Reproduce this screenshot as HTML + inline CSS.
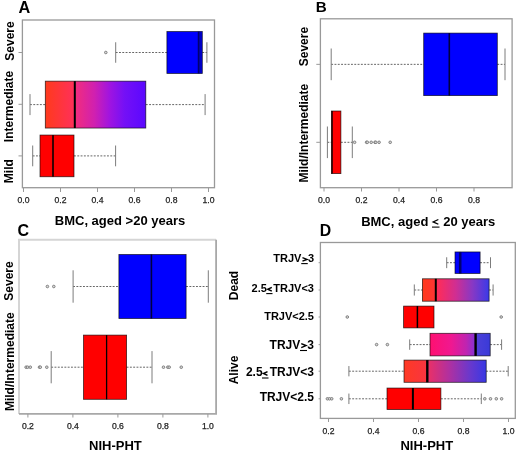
<!DOCTYPE html><html><head><meta charset="utf-8"><style>html,body{margin:0;padding:0;background:#fff;}svg{display:block;will-change:transform;}</style></head><body>
<svg width="520" height="451" viewBox="0 0 520 451" font-family='"Liberation Sans", sans-serif'>
<defs><linearGradient id="gA" x1="0" x2="1" y1="0" y2="0"><stop offset="0" stop-color="#ff3a1c"/><stop offset="0.28" stop-color="#ff3058"/><stop offset="0.31" stop-color="#f02c80"/><stop offset="0.49" stop-color="#d020b0"/><stop offset="0.64" stop-color="#a014e0"/><stop offset="0.79" stop-color="#7410f6"/><stop offset="1" stop-color="#5a08ff"/></linearGradient><linearGradient id="gD2" x1="0" x2="1" y1="0" y2="0"><stop offset="0" stop-color="#ff3a1c"/><stop offset="0.19" stop-color="#ff3434"/><stop offset="0.22" stop-color="#ff2c58"/><stop offset="0.5" stop-color="#d02e92"/><stop offset="0.75" stop-color="#8838c4"/><stop offset="1" stop-color="#3a3ae8"/></linearGradient><linearGradient id="gD4" x1="0" x2="1" y1="0" y2="0"><stop offset="0" stop-color="#ff1070"/><stop offset="0.35" stop-color="#f01890"/><stop offset="0.6" stop-color="#c024b0"/><stop offset="0.74" stop-color="#8a30d0"/><stop offset="0.77" stop-color="#4c40d8"/><stop offset="1" stop-color="#3a3ad8"/></linearGradient><linearGradient id="gD5" x1="0" x2="1" y1="0" y2="0"><stop offset="0" stop-color="#ff3a24"/><stop offset="0.27" stop-color="#f83440"/><stop offset="0.3" stop-color="#e83068"/><stop offset="0.55" stop-color="#b030a0"/><stop offset="0.8" stop-color="#6a38cc"/><stop offset="1" stop-color="#3838e4"/></linearGradient></defs>
<rect width="520" height="451" fill="#fff"/>
<text x="18.6" y="12.8" font-size="16.3" font-weight="bold">A</text>
<rect x="22.4" y="20" width="192.1" height="167.7" fill="none" stroke="#999" stroke-width="1.3"/>
<line x1="23.5" y1="188" x2="23.5" y2="192" stroke="#999" stroke-width="1"/>
<text x="23.5" y="203" font-size="8.6" fill="#222" stroke="#222" stroke-width="0.25" text-anchor="middle">0.0</text>
<line x1="60.5" y1="188" x2="60.5" y2="192" stroke="#999" stroke-width="1"/>
<text x="60.5" y="203" font-size="8.6" fill="#222" stroke="#222" stroke-width="0.25" text-anchor="middle">0.2</text>
<line x1="97.5" y1="188" x2="97.5" y2="192" stroke="#999" stroke-width="1"/>
<text x="97.5" y="203" font-size="8.6" fill="#222" stroke="#222" stroke-width="0.25" text-anchor="middle">0.4</text>
<line x1="134.5" y1="188" x2="134.5" y2="192" stroke="#999" stroke-width="1"/>
<text x="134.5" y="203" font-size="8.6" fill="#222" stroke="#222" stroke-width="0.25" text-anchor="middle">0.6</text>
<line x1="171.5" y1="188" x2="171.5" y2="192" stroke="#999" stroke-width="1"/>
<text x="171.5" y="203" font-size="8.6" fill="#222" stroke="#222" stroke-width="0.25" text-anchor="middle">0.8</text>
<line x1="208.5" y1="188" x2="208.5" y2="192" stroke="#999" stroke-width="1"/>
<text x="208.5" y="203" font-size="8.6" fill="#222" stroke="#222" stroke-width="0.25" text-anchor="middle">1.0</text>
<line x1="18.5" y1="52.5" x2="22.4" y2="52.5" stroke="#999" stroke-width="1"/>
<line x1="18.5" y1="104.3" x2="22.4" y2="104.3" stroke="#999" stroke-width="1"/>
<line x1="18.5" y1="155.9" x2="22.4" y2="155.9" stroke="#999" stroke-width="1"/>
<text transform="translate(13.8,41) rotate(-90)" font-size="12" font-weight="bold" text-anchor="middle">Severe</text>
<text transform="translate(12.8,106.5) rotate(-90)" font-size="12" font-weight="bold" text-anchor="middle">Intermediate</text>
<text transform="translate(13.0,171.2) rotate(-90)" font-size="12" font-weight="bold" text-anchor="middle">Mild</text>
<text x="120" y="225" font-size="13" font-weight="bold" text-anchor="middle">BMC, aged &gt;20 years</text>
<line x1="32.7" y1="155.9" x2="40" y2="155.9" stroke="#666" stroke-width="1" stroke-dasharray="1.9 1.4"/>
<line x1="32.7" y1="145.5" x2="32.7" y2="166.3" stroke="#7c7c7c" stroke-width="1"/>
<line x1="74" y1="155.9" x2="115.6" y2="155.9" stroke="#666" stroke-width="1" stroke-dasharray="1.9 1.4"/>
<line x1="115.6" y1="145.5" x2="115.6" y2="166.3" stroke="#7c7c7c" stroke-width="1"/>
<rect x="40" y="135.05" width="34" height="41.7" fill="#ff0000" stroke="rgba(0,0,0,0.75)" stroke-width="0.8"/>
<line x1="53" y1="135.05" x2="53" y2="176.75" stroke="#3a0000" stroke-width="2.0"/>
<line x1="30" y1="104.6" x2="45.3" y2="104.6" stroke="#666" stroke-width="1" stroke-dasharray="1.9 1.4"/>
<line x1="30" y1="94.1" x2="30" y2="115.1" stroke="#7c7c7c" stroke-width="1"/>
<line x1="145.8" y1="104.6" x2="205.1" y2="104.6" stroke="#666" stroke-width="1" stroke-dasharray="1.9 1.4"/>
<line x1="205.1" y1="94.1" x2="205.1" y2="115.1" stroke="#7c7c7c" stroke-width="1"/>
<rect x="45.3" y="81.14999999999999" width="100.50000000000001" height="46.9" fill="url(#gA)" stroke="rgba(0,0,0,0.75)" stroke-width="0.8"/>
<line x1="74.8" y1="81.14999999999999" x2="74.8" y2="128.04999999999998" stroke="#000" stroke-width="2.0"/>
<line x1="115.7" y1="52.5" x2="166.9" y2="52.5" stroke="#666" stroke-width="1" stroke-dasharray="1.9 1.4"/>
<line x1="115.7" y1="42.25" x2="115.7" y2="62.75" stroke="#7c7c7c" stroke-width="1"/>
<line x1="202.3" y1="52.5" x2="206.9" y2="52.5" stroke="#666" stroke-width="1" stroke-dasharray="1.9 1.4"/>
<line x1="206.9" y1="42.25" x2="206.9" y2="62.75" stroke="#7c7c7c" stroke-width="1"/>
<rect x="166.9" y="31.55" width="35.400000000000006" height="41.9" fill="#0000ff" stroke="rgba(0,0,0,0.75)" stroke-width="0.8"/>
<line x1="-10" y1="31.55" x2="-10" y2="73.45" stroke="#000" stroke-width="2.0"/>
<circle cx="105.8" cy="52.5" r="1.3" fill="#d8d8d8" stroke="#777" stroke-width="0.9"/>
<rect x="199.4" y="31.8" width="2.6" height="41.3" fill="#0000c4"/>
<line x1="198.6" y1="31.6" x2="198.6" y2="73.4" stroke="#000070" stroke-width="1.7"/>
<text x="315.7" y="11.8" font-size="15.2" font-weight="bold">B</text>
<rect x="320.4" y="18.8" width="191.70000000000005" height="168.89999999999998" fill="none" stroke="#999" stroke-width="1.3"/>
<line x1="324.0" y1="188" x2="324.0" y2="191.5" stroke="#999" stroke-width="1"/>
<text x="324.0" y="202.5" font-size="8.6" fill="#222" stroke="#222" stroke-width="0.25" text-anchor="middle">0.0</text>
<line x1="361.5" y1="188" x2="361.5" y2="191.5" stroke="#999" stroke-width="1"/>
<text x="361.5" y="202.5" font-size="8.6" fill="#222" stroke="#222" stroke-width="0.25" text-anchor="middle">0.2</text>
<line x1="399.0" y1="188" x2="399.0" y2="191.5" stroke="#999" stroke-width="1"/>
<text x="399.0" y="202.5" font-size="8.6" fill="#222" stroke="#222" stroke-width="0.25" text-anchor="middle">0.4</text>
<line x1="436.5" y1="188" x2="436.5" y2="191.5" stroke="#999" stroke-width="1"/>
<text x="436.5" y="202.5" font-size="8.6" fill="#222" stroke="#222" stroke-width="0.25" text-anchor="middle">0.6</text>
<line x1="474.0" y1="188" x2="474.0" y2="191.5" stroke="#999" stroke-width="1"/>
<text x="474.0" y="202.5" font-size="8.6" fill="#222" stroke="#222" stroke-width="0.25" text-anchor="middle">0.8</text>
<line x1="316.3" y1="64.35" x2="320.4" y2="64.35" stroke="#999" stroke-width="1"/>
<line x1="316.3" y1="142.3" x2="320.4" y2="142.3" stroke="#999" stroke-width="1"/>
<text transform="translate(307.6,46.6) rotate(-90)" font-size="12" font-weight="bold" text-anchor="middle">Severe</text>
<text transform="translate(307.7,133.2) rotate(-90)" font-size="12" font-weight="bold" text-anchor="middle">Mild/Intermediate</text>
<text x="428.2" y="225.9" font-size="13" font-weight="bold" text-anchor="middle">BMC, aged <tspan fill-opacity="0">&lt;</tspan> 20 years</text>
<line x1="331.2" y1="64.35" x2="423.7" y2="64.35" stroke="#666" stroke-width="1" stroke-dasharray="1.9 1.4"/>
<line x1="331.2" y1="48.49999999999999" x2="331.2" y2="80.19999999999999" stroke="#7c7c7c" stroke-width="1"/>
<line x1="497.3" y1="64.35" x2="505" y2="64.35" stroke="#666" stroke-width="1" stroke-dasharray="1.9 1.4"/>
<line x1="505" y1="48.49999999999999" x2="505" y2="80.19999999999999" stroke="#7c7c7c" stroke-width="1"/>
<rect x="423.7" y="33.099999999999994" width="73.60000000000002" height="62.5" fill="#0000ff" stroke="rgba(0,0,0,0.75)" stroke-width="0.8"/>
<line x1="449.3" y1="33.099999999999994" x2="449.3" y2="95.6" stroke="#000040" stroke-width="1.6"/>
<line x1="327.4" y1="142.3" x2="331.5" y2="142.3" stroke="#666" stroke-width="1" stroke-dasharray="1.9 1.4"/>
<line x1="327.4" y1="126.50000000000001" x2="327.4" y2="158.10000000000002" stroke="#7c7c7c" stroke-width="1"/>
<line x1="340.9" y1="142.3" x2="352.3" y2="142.3" stroke="#666" stroke-width="1" stroke-dasharray="1.9 1.4"/>
<line x1="352.3" y1="126.50000000000001" x2="352.3" y2="158.10000000000002" stroke="#7c7c7c" stroke-width="1"/>
<rect x="331.5" y="111.00000000000001" width="9.399999999999977" height="62.6" fill="#ff0000" stroke="rgba(0,0,0,0.75)" stroke-width="0.8"/>
<line x1="332.1" y1="111.00000000000001" x2="332.1" y2="173.60000000000002" stroke="#000" stroke-width="1.2"/>
<circle cx="354.6" cy="142.3" r="1.3" fill="#d8d8d8" stroke="#777" stroke-width="0.9"/>
<circle cx="366.6" cy="142.3" r="1.3" fill="#d8d8d8" stroke="#777" stroke-width="0.9"/>
<circle cx="367.3" cy="142.3" r="1.3" fill="#d8d8d8" stroke="#777" stroke-width="0.9"/>
<circle cx="371.2" cy="142.3" r="1.3" fill="#d8d8d8" stroke="#777" stroke-width="0.9"/>
<circle cx="375" cy="142.3" r="1.3" fill="#d8d8d8" stroke="#777" stroke-width="0.9"/>
<circle cx="375.8" cy="142.3" r="1.3" fill="#d8d8d8" stroke="#777" stroke-width="0.9"/>
<circle cx="379.1" cy="142.3" r="1.3" fill="#d8d8d8" stroke="#777" stroke-width="0.9"/>
<circle cx="390.2" cy="142.3" r="1.3" fill="#d8d8d8" stroke="#777" stroke-width="0.9"/>
<text x="17.4" y="235.7" font-size="16" font-weight="bold">C</text>
<path d="M19 414 V239.8 H216.1" fill="none" stroke="#d5d5d5" stroke-width="2"/>
<path d="M216.1 239.8 V413.9 H19" fill="none" stroke="#a8a8a8" stroke-width="1.8"/>
<line x1="27.9" y1="414" x2="27.9" y2="417.5" stroke="#999" stroke-width="1"/>
<text x="27.9" y="429" font-size="8.6" fill="#222" stroke="#222" stroke-width="0.25" text-anchor="middle">0.2</text>
<line x1="72.9" y1="414" x2="72.9" y2="417.5" stroke="#999" stroke-width="1"/>
<text x="72.9" y="429" font-size="8.6" fill="#222" stroke="#222" stroke-width="0.25" text-anchor="middle">0.4</text>
<line x1="117.89999999999998" y1="414" x2="117.89999999999998" y2="417.5" stroke="#999" stroke-width="1"/>
<text x="117.89999999999998" y="429" font-size="8.6" fill="#222" stroke="#222" stroke-width="0.25" text-anchor="middle">0.6</text>
<line x1="162.90000000000003" y1="414" x2="162.90000000000003" y2="417.5" stroke="#999" stroke-width="1"/>
<text x="162.90000000000003" y="429" font-size="8.6" fill="#222" stroke="#222" stroke-width="0.25" text-anchor="middle">0.8</text>
<line x1="207.9" y1="414" x2="207.9" y2="417.5" stroke="#999" stroke-width="1"/>
<text x="207.9" y="429" font-size="8.6" fill="#222" stroke="#222" stroke-width="0.25" text-anchor="middle">1.0</text>
<text transform="translate(13.2,281.0) rotate(-90)" font-size="12" font-weight="bold" text-anchor="middle">Severe</text>
<text transform="translate(13.6,361.7) rotate(-90)" font-size="12" font-weight="bold" text-anchor="middle">Mild/Intermediate</text>
<text x="115.4" y="450" font-size="13" font-weight="bold" text-anchor="middle">NIH-PHT</text>
<line x1="73.1" y1="286.5" x2="118.9" y2="286.5" stroke="#666" stroke-width="1" stroke-dasharray="1.9 1.4"/>
<line x1="73.1" y1="270.3" x2="73.1" y2="302.7" stroke="#7c7c7c" stroke-width="1"/>
<line x1="186.1" y1="286.5" x2="208.3" y2="286.5" stroke="#666" stroke-width="1" stroke-dasharray="1.9 1.4"/>
<line x1="208.3" y1="270.3" x2="208.3" y2="302.7" stroke="#7c7c7c" stroke-width="1"/>
<rect x="118.9" y="254.5" width="67.19999999999999" height="64" fill="#0000ff" stroke="rgba(0,0,0,0.75)" stroke-width="0.8"/>
<line x1="151.4" y1="254.5" x2="151.4" y2="318.5" stroke="#000040" stroke-width="1.6"/>
<circle cx="47.4" cy="286.5" r="1.3" fill="#d8d8d8" stroke="#777" stroke-width="0.9"/>
<circle cx="53.8" cy="286.5" r="1.3" fill="#d8d8d8" stroke="#777" stroke-width="0.9"/>
<line x1="51.2" y1="367.2" x2="83.5" y2="367.2" stroke="#666" stroke-width="1" stroke-dasharray="1.9 1.4"/>
<line x1="51.2" y1="351.09999999999997" x2="51.2" y2="383.3" stroke="#7c7c7c" stroke-width="1"/>
<line x1="126.6" y1="367.2" x2="152" y2="367.2" stroke="#666" stroke-width="1" stroke-dasharray="1.9 1.4"/>
<line x1="152" y1="351.09999999999997" x2="152" y2="383.3" stroke="#7c7c7c" stroke-width="1"/>
<rect x="83.5" y="335.09999999999997" width="43.099999999999994" height="64.2" fill="#ff0000" stroke="rgba(0,0,0,0.75)" stroke-width="0.8"/>
<line x1="106.6" y1="335.09999999999997" x2="106.6" y2="399.29999999999995" stroke="#000" stroke-width="1.3"/>
<circle cx="26.1" cy="367.2" r="1.3" fill="#d8d8d8" stroke="#777" stroke-width="0.9"/>
<circle cx="27.6" cy="367.2" r="1.3" fill="#d8d8d8" stroke="#777" stroke-width="0.9"/>
<circle cx="30.3" cy="367.2" r="1.3" fill="#d8d8d8" stroke="#777" stroke-width="0.9"/>
<circle cx="39.5" cy="367.2" r="1.3" fill="#d8d8d8" stroke="#777" stroke-width="0.9"/>
<circle cx="40.3" cy="367.2" r="1.3" fill="#d8d8d8" stroke="#777" stroke-width="0.9"/>
<circle cx="46.8" cy="367.2" r="1.3" fill="#d8d8d8" stroke="#777" stroke-width="0.9"/>
<circle cx="163.5" cy="367.2" r="1.3" fill="#d8d8d8" stroke="#777" stroke-width="0.9"/>
<circle cx="167.8" cy="367.2" r="1.3" fill="#d8d8d8" stroke="#777" stroke-width="0.9"/>
<circle cx="169.2" cy="367.2" r="1.3" fill="#d8d8d8" stroke="#777" stroke-width="0.9"/>
<circle cx="181.25" cy="367.2" r="1.3" fill="#d8d8d8" stroke="#777" stroke-width="0.9"/>
<text x="319.8" y="235.8" font-size="15.8" font-weight="bold">D</text>
<rect x="320.4" y="242.5" width="194.89999999999998" height="175.89999999999998" fill="none" stroke="#999" stroke-width="1.3"/>
<line x1="328.5" y1="418.5" x2="328.5" y2="422.0" stroke="#999" stroke-width="1"/>
<text x="328.5" y="433.8" font-size="8.6" fill="#222" stroke="#222" stroke-width="0.25" text-anchor="middle">0.2</text>
<line x1="373.5" y1="418.5" x2="373.5" y2="422.0" stroke="#999" stroke-width="1"/>
<text x="373.5" y="433.8" font-size="8.6" fill="#222" stroke="#222" stroke-width="0.25" text-anchor="middle">0.4</text>
<line x1="418.5" y1="418.5" x2="418.5" y2="422.0" stroke="#999" stroke-width="1"/>
<text x="418.5" y="433.8" font-size="8.6" fill="#222" stroke="#222" stroke-width="0.25" text-anchor="middle">0.6</text>
<line x1="463.5" y1="418.5" x2="463.5" y2="422.0" stroke="#999" stroke-width="1"/>
<text x="463.5" y="433.8" font-size="8.6" fill="#222" stroke="#222" stroke-width="0.25" text-anchor="middle">0.8</text>
<line x1="508.5" y1="418.5" x2="508.5" y2="422.0" stroke="#999" stroke-width="1"/>
<text x="508.5" y="433.8" font-size="8.6" fill="#222" stroke="#222" stroke-width="0.25" text-anchor="middle">1.0</text>
<line x1="318.6" y1="262.7" x2="320.4" y2="262.7" stroke="#999" stroke-width="1"/>
<line x1="318.6" y1="290" x2="320.4" y2="290" stroke="#999" stroke-width="1"/>
<line x1="318.6" y1="317" x2="320.4" y2="317" stroke="#999" stroke-width="1"/>
<line x1="318.6" y1="344.6" x2="320.4" y2="344.6" stroke="#999" stroke-width="1"/>
<line x1="318.6" y1="371.2" x2="320.4" y2="371.2" stroke="#999" stroke-width="1"/>
<line x1="318.6" y1="398.8" x2="320.4" y2="398.8" stroke="#999" stroke-width="1"/>
<text transform="translate(238,285.5) rotate(-90)" font-size="12" font-weight="bold" text-anchor="middle">Dead</text>
<text transform="translate(238,370) rotate(-90)" font-size="12" font-weight="bold" text-anchor="middle">Alive</text>
<text x="314" y="262.0" font-size="11" font-weight="bold" text-anchor="end">TRJV<tspan fill-opacity="0">&gt;</tspan>3</text>
<text x="314" y="291.8" font-size="11" font-weight="bold" text-anchor="end">2.5<tspan fill-opacity="0">&lt;</tspan>TRJV&lt;3</text>
<text x="314" y="320" font-size="11" font-weight="bold" text-anchor="end">TRJV&lt;2.5</text>
<text x="314" y="348.6" font-size="12" font-weight="bold" text-anchor="end">TRJV<tspan fill-opacity="0">&gt;</tspan>3</text>
<text x="314" y="376.2" font-size="12" font-weight="bold" text-anchor="end">2.5<tspan fill-opacity="0">&lt;</tspan>TRJV&lt;3</text>
<text x="314" y="400.7" font-size="12" font-weight="bold" text-anchor="end">TRJV&lt;2.5</text>
<text x="426.8" y="449.6" font-size="13" font-weight="bold" text-anchor="middle">NIH-PHT</text>
<line x1="446.7" y1="262.7" x2="455" y2="262.7" stroke="#666" stroke-width="1" stroke-dasharray="1.9 1.4"/>
<line x1="446.7" y1="257.25" x2="446.7" y2="268.15" stroke="#7c7c7c" stroke-width="1"/>
<line x1="480.1" y1="262.7" x2="490.5" y2="262.7" stroke="#666" stroke-width="1" stroke-dasharray="1.9 1.4"/>
<line x1="490.5" y1="257.25" x2="490.5" y2="268.15" stroke="#7c7c7c" stroke-width="1"/>
<rect x="455" y="251.95" width="25.100000000000023" height="21.5" fill="#0000ff" stroke="rgba(0,0,0,0.75)" stroke-width="0.8"/>
<line x1="460.2" y1="251.95" x2="460.2" y2="273.45" stroke="#000070" stroke-width="2.6"/>
<line x1="414.3" y1="290" x2="422.4" y2="290" stroke="#666" stroke-width="1" stroke-dasharray="1.9 1.4"/>
<line x1="414.3" y1="284.45" x2="414.3" y2="295.55" stroke="#7c7c7c" stroke-width="1"/>
<line x1="489.1" y1="290" x2="493.1" y2="290" stroke="#666" stroke-width="1" stroke-dasharray="1.9 1.4"/>
<line x1="493.1" y1="284.45" x2="493.1" y2="295.55" stroke="#7c7c7c" stroke-width="1"/>
<rect x="422.4" y="278.8" width="66.70000000000005" height="22.4" fill="url(#gD2)" stroke="rgba(0,0,0,0.75)" stroke-width="0.8"/>
<line x1="435.8" y1="278.8" x2="435.8" y2="301.2" stroke="#000" stroke-width="2.0"/>
<rect x="403.6" y="306.1" width="30.399999999999977" height="21.8" fill="#ff0000" stroke="rgba(0,0,0,0.75)" stroke-width="0.8"/>
<line x1="417.4" y1="306.1" x2="417.4" y2="327.90000000000003" stroke="#000" stroke-width="1.5"/>
<circle cx="347.3" cy="317" r="1.3" fill="#d8d8d8" stroke="#777" stroke-width="0.9"/>
<circle cx="501.2" cy="317" r="1.3" fill="#d8d8d8" stroke="#777" stroke-width="0.9"/>
<line x1="409.7" y1="344.6" x2="430" y2="344.6" stroke="#666" stroke-width="1" stroke-dasharray="1.9 1.4"/>
<line x1="409.7" y1="339.40000000000003" x2="409.7" y2="349.8" stroke="#7c7c7c" stroke-width="1"/>
<line x1="490.2" y1="344.6" x2="501.6" y2="344.6" stroke="#666" stroke-width="1" stroke-dasharray="1.9 1.4"/>
<line x1="501.6" y1="339.40000000000003" x2="501.6" y2="349.8" stroke="#7c7c7c" stroke-width="1"/>
<rect x="430" y="333.3" width="60.19999999999999" height="22.6" fill="url(#gD4)" stroke="rgba(0,0,0,0.75)" stroke-width="0.8"/>
<line x1="475.6" y1="333.3" x2="475.6" y2="355.90000000000003" stroke="#000" stroke-width="2.4"/>
<circle cx="376.6" cy="344.6" r="1.3" fill="#d8d8d8" stroke="#777" stroke-width="0.9"/>
<circle cx="387.4" cy="344.6" r="1.3" fill="#d8d8d8" stroke="#777" stroke-width="0.9"/>
<line x1="348.9" y1="371.2" x2="404" y2="371.2" stroke="#666" stroke-width="1" stroke-dasharray="1.9 1.4"/>
<line x1="348.9" y1="366.05" x2="348.9" y2="376.34999999999997" stroke="#7c7c7c" stroke-width="1"/>
<line x1="486.2" y1="371.2" x2="508.2" y2="371.2" stroke="#666" stroke-width="1" stroke-dasharray="1.9 1.4"/>
<line x1="508.2" y1="366.05" x2="508.2" y2="376.34999999999997" stroke="#7c7c7c" stroke-width="1"/>
<rect x="404" y="360.09999999999997" width="82.19999999999999" height="22.2" fill="url(#gD5)" stroke="rgba(0,0,0,0.75)" stroke-width="0.8"/>
<line x1="427.3" y1="360.09999999999997" x2="427.3" y2="382.29999999999995" stroke="#000" stroke-width="2.4"/>
<line x1="348.9" y1="398.8" x2="387" y2="398.8" stroke="#666" stroke-width="1" stroke-dasharray="1.9 1.4"/>
<line x1="348.9" y1="393.55" x2="348.9" y2="404.05" stroke="#7c7c7c" stroke-width="1"/>
<line x1="440.9" y1="398.8" x2="481.3" y2="398.8" stroke="#666" stroke-width="1" stroke-dasharray="1.9 1.4"/>
<line x1="481.3" y1="393.55" x2="481.3" y2="404.05" stroke="#7c7c7c" stroke-width="1"/>
<rect x="387" y="388.05" width="53.89999999999998" height="21.5" fill="#ff0000" stroke="rgba(0,0,0,0.75)" stroke-width="0.8"/>
<line x1="412.9" y1="388.05" x2="412.9" y2="409.55" stroke="#000" stroke-width="2.0"/>
<circle cx="327.4" cy="398.8" r="1.3" fill="#d8d8d8" stroke="#777" stroke-width="0.9"/>
<circle cx="329.5" cy="398.8" r="1.3" fill="#d8d8d8" stroke="#777" stroke-width="0.9"/>
<circle cx="331.7" cy="398.8" r="1.3" fill="#d8d8d8" stroke="#777" stroke-width="0.9"/>
<circle cx="341.4" cy="398.8" r="1.3" fill="#d8d8d8" stroke="#777" stroke-width="0.9"/>
<circle cx="484.8" cy="398.8" r="1.3" fill="#d8d8d8" stroke="#777" stroke-width="0.9"/>
<circle cx="490.5" cy="398.8" r="1.3" fill="#d8d8d8" stroke="#777" stroke-width="0.9"/>
<circle cx="496.3" cy="398.8" r="1.3" fill="#d8d8d8" stroke="#777" stroke-width="0.9"/>
<circle cx="501.6" cy="398.8" r="1.3" fill="#d8d8d8" stroke="#777" stroke-width="0.9"/>
<path d="M438.35 219.52 L433.15 221.88 L438.35 224.23" fill="none" stroke="#000" stroke-width="1.3" stroke-linejoin="miter"/>
<rect x="432.0" y="226.55" width="7.50" height="1.1" fill="#000"/>
<path d="M302.45 257.56 L307.05 259.38 L302.45 261.19" fill="none" stroke="#000" stroke-width="1.4" stroke-linejoin="miter"/>
<rect x="301.25" y="263.05" width="6.50" height="1.1" fill="#000"/>
<path d="M271.80 287.31 L267.70 289.25 L271.80 291.19" fill="none" stroke="#000" stroke-width="1.4" stroke-linejoin="miter"/>
<rect x="266.25" y="293.05" width="6.25" height="1.1" fill="#000"/>
<path d="M301.25 343.60 L306.00 345.62 L301.25 347.65" fill="none" stroke="#000" stroke-width="1.5" stroke-linejoin="miter"/>
<rect x="300.0" y="349.95" width="7.00" height="1.1" fill="#000"/>
<path d="M267.50 371.60 L263.50 373.50 L267.50 375.40" fill="none" stroke="#000" stroke-width="1.5" stroke-linejoin="miter"/>
<rect x="262.0" y="377.45" width="6.50" height="1.1" fill="#000"/>
</svg></body></html>
